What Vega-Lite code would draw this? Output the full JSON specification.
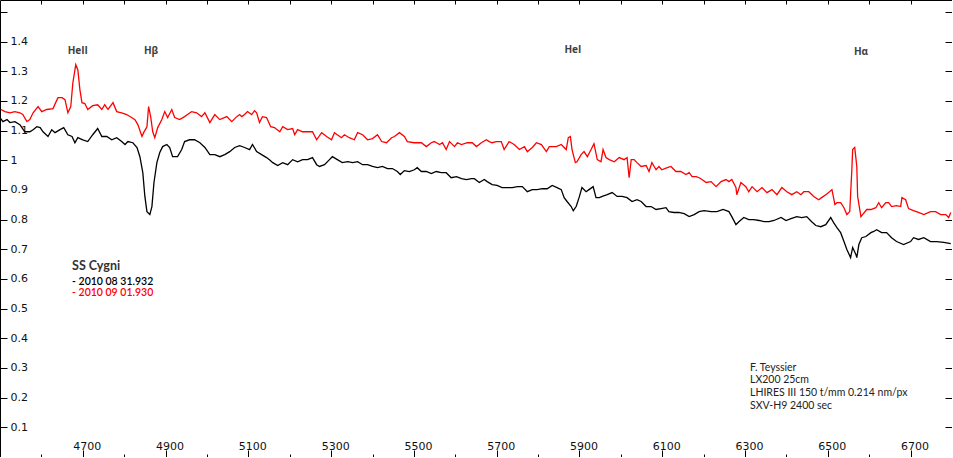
{
"$schema": "https://vega.github.io/schema/vega-lite/v6.json",
"width": 952, "height": 457, "padding": 0, "autosize": {"type": "none"},
"background": "white",
"config": {"view": {"stroke": null}, "axis": {"grid": false, "domainColor": "#000", "tickColor": "#000", "labelFont": "DejaVu Sans", "labelFontSize": 11, "labelColor": "#111", "title": null}},
"datasets": {
"spec": [
{"w":4500,"f":1.144,"s":"k"},{"w":4507,"f":1.130,"s":"k"},{"w":4517,"f":1.137,"s":"k"},{"w":4524,"f":1.127,"s":"k"},{"w":4536,"f":1.130,"s":"k"},{"w":4548,"f":1.120,"s":"k"},{"w":4560,"f":1.096,"s":"k"},{"w":4572,"f":1.096,"s":"k"},{"w":4580,"f":1.103,"s":"k"},{"w":4589,"f":1.113,"s":"k"},{"w":4597,"f":1.110,"s":"k"},{"w":4604,"f":1.096,"s":"k"},{"w":4616,"f":1.080,"s":"k"},{"w":4625,"f":1.103,"s":"k"},{"w":4633,"f":1.093,"s":"k"},{"w":4645,"f":1.103,"s":"k"},{"w":4654,"f":1.110,"s":"k"},{"w":4664,"f":1.086,"s":"k"},{"w":4674,"f":1.080,"s":"k"},{"w":4681,"f":1.059,"s":"k"},{"w":4688,"f":1.076,"s":"k"},{"w":4700,"f":1.069,"s":"k"},{"w":4712,"f":1.063,"s":"k"},{"w":4724,"f":1.086,"s":"k"},{"w":4736,"f":1.107,"s":"k"},{"w":4746,"f":1.080,"s":"k"},{"w":4758,"f":1.080,"s":"k"},{"w":4770,"f":1.069,"s":"k"},{"w":4782,"f":1.076,"s":"k"},{"w":4794,"f":1.063,"s":"k"},{"w":4802,"f":1.053,"s":"k"},{"w":4809,"f":1.063,"s":"k"},{"w":4821,"f":1.059,"s":"k"},{"w":4831,"f":1.043,"s":"k"},{"w":4838,"f":1.012,"s":"k"},{"w":4845,"f":0.958,"s":"k"},{"w":4850,"f":0.878,"s":"k"},{"w":4855,"f":0.827,"s":"k"},{"w":4862,"f":0.817,"s":"k"},{"w":4867,"f":0.844,"s":"k"},{"w":4872,"f":0.925,"s":"k"},{"w":4879,"f":0.992,"s":"k"},{"w":4886,"f":1.026,"s":"k"},{"w":4893,"f":1.046,"s":"k"},{"w":4903,"f":1.053,"s":"k"},{"w":4910,"f":1.043,"s":"k"},{"w":4917,"f":1.012,"s":"k"},{"w":4929,"f":1.012,"s":"k"},{"w":4939,"f":1.036,"s":"k"},{"w":4946,"f":1.063,"s":"k"},{"w":4958,"f":1.069,"s":"k"},{"w":4970,"f":1.069,"s":"k"},{"w":4983,"f":1.059,"s":"k"},{"w":4995,"f":1.043,"s":"k"},{"w":5007,"f":1.019,"s":"k"},{"w":5019,"f":1.019,"s":"k"},{"w":5031,"f":1.012,"s":"k"},{"w":5043,"f":1.019,"s":"k"},{"w":5055,"f":1.029,"s":"k"},{"w":5067,"f":1.043,"s":"k"},{"w":5079,"f":1.049,"s":"k"},{"w":5091,"f":1.043,"s":"k"},{"w":5103,"f":1.036,"s":"k"},{"w":5110,"f":1.053,"s":"k"},{"w":5120,"f":1.029,"s":"k"},{"w":5132,"f":1.019,"s":"k"},{"w":5144,"f":1.009,"s":"k"},{"w":5151,"f":1.002,"s":"k"},{"w":5159,"f":0.992,"s":"k"},{"w":5171,"f":0.982,"s":"k"},{"w":5183,"f":0.992,"s":"k"},{"w":5195,"f":0.985,"s":"k"},{"w":5207,"f":1.002,"s":"k"},{"w":5219,"f":0.995,"s":"k"},{"w":5231,"f":1.002,"s":"k"},{"w":5243,"f":1.002,"s":"k"},{"w":5255,"f":1.009,"s":"k"},{"w":5265,"f":0.985,"s":"k"},{"w":5272,"f":0.979,"s":"k"},{"w":5284,"f":0.985,"s":"k"},{"w":5296,"f":1.002,"s":"k"},{"w":5303,"f":1.012,"s":"k"},{"w":5315,"f":1.002,"s":"k"},{"w":5327,"f":0.992,"s":"k"},{"w":5340,"f":0.995,"s":"k"},{"w":5352,"f":0.992,"s":"k"},{"w":5364,"f":0.995,"s":"k"},{"w":5376,"f":0.985,"s":"k"},{"w":5388,"f":0.985,"s":"k"},{"w":5400,"f":0.979,"s":"k"},{"w":5412,"f":0.975,"s":"k"},{"w":5424,"f":0.979,"s":"k"},{"w":5436,"f":0.972,"s":"k"},{"w":5448,"f":0.972,"s":"k"},{"w":5460,"f":0.962,"s":"k"},{"w":5467,"f":0.952,"s":"k"},{"w":5477,"f":0.965,"s":"k"},{"w":5489,"f":0.962,"s":"k"},{"w":5501,"f":0.968,"s":"k"},{"w":5508,"f":0.975,"s":"k"},{"w":5518,"f":0.962,"s":"k"},{"w":5530,"f":0.962,"s":"k"},{"w":5542,"f":0.955,"s":"k"},{"w":5554,"f":0.962,"s":"k"},{"w":5566,"f":0.958,"s":"k"},{"w":5578,"f":0.958,"s":"k"},{"w":5590,"f":0.941,"s":"k"},{"w":5603,"f":0.945,"s":"k"},{"w":5615,"f":0.938,"s":"k"},{"w":5627,"f":0.935,"s":"k"},{"w":5639,"f":0.938,"s":"k"},{"w":5646,"f":0.938,"s":"k"},{"w":5658,"f":0.925,"s":"k"},{"w":5670,"f":0.935,"s":"k"},{"w":5677,"f":0.928,"s":"k"},{"w":5689,"f":0.918,"s":"k"},{"w":5701,"f":0.915,"s":"k"},{"w":5713,"f":0.908,"s":"k"},{"w":5726,"f":0.908,"s":"k"},{"w":5738,"f":0.908,"s":"k"},{"w":5750,"f":0.911,"s":"k"},{"w":5762,"f":0.911,"s":"k"},{"w":5774,"f":0.894,"s":"k"},{"w":5786,"f":0.901,"s":"k"},{"w":5798,"f":0.901,"s":"k"},{"w":5810,"f":0.904,"s":"k"},{"w":5822,"f":0.904,"s":"k"},{"w":5834,"f":0.915,"s":"k"},{"w":5846,"f":0.908,"s":"k"},{"w":5856,"f":0.901,"s":"k"},{"w":5863,"f":0.874,"s":"k"},{"w":5870,"f":0.861,"s":"k"},{"w":5880,"f":0.844,"s":"k"},{"w":5885,"f":0.830,"s":"k"},{"w":5892,"f":0.844,"s":"k"},{"w":5899,"f":0.874,"s":"k"},{"w":5906,"f":0.908,"s":"k"},{"w":5916,"f":0.894,"s":"k"},{"w":5923,"f":0.901,"s":"k"},{"w":5933,"f":0.911,"s":"k"},{"w":5940,"f":0.874,"s":"k"},{"w":5948,"f":0.874,"s":"k"},{"w":5955,"f":0.878,"s":"k"},{"w":5967,"f":0.884,"s":"k"},{"w":5979,"f":0.891,"s":"k"},{"w":5991,"f":0.878,"s":"k"},{"w":6003,"f":0.878,"s":"k"},{"w":6015,"f":0.874,"s":"k"},{"w":6027,"f":0.861,"s":"k"},{"w":6039,"f":0.867,"s":"k"},{"w":6049,"f":0.861,"s":"k"},{"w":6061,"f":0.844,"s":"k"},{"w":6073,"f":0.844,"s":"k"},{"w":6085,"f":0.834,"s":"k"},{"w":6097,"f":0.837,"s":"k"},{"w":6109,"f":0.840,"s":"k"},{"w":6116,"f":0.827,"s":"k"},{"w":6128,"f":0.824,"s":"k"},{"w":6140,"f":0.824,"s":"k"},{"w":6153,"f":0.820,"s":"k"},{"w":6165,"f":0.810,"s":"k"},{"w":6177,"f":0.817,"s":"k"},{"w":6189,"f":0.827,"s":"k"},{"w":6201,"f":0.830,"s":"k"},{"w":6218,"f":0.827,"s":"k"},{"w":6232,"f":0.827,"s":"k"},{"w":6247,"f":0.834,"s":"k"},{"w":6261,"f":0.827,"s":"k"},{"w":6268,"f":0.810,"s":"k"},{"w":6278,"f":0.783,"s":"k"},{"w":6285,"f":0.793,"s":"k"},{"w":6297,"f":0.807,"s":"k"},{"w":6309,"f":0.800,"s":"k"},{"w":6321,"f":0.800,"s":"k"},{"w":6334,"f":0.797,"s":"k"},{"w":6346,"f":0.793,"s":"k"},{"w":6358,"f":0.793,"s":"k"},{"w":6370,"f":0.797,"s":"k"},{"w":6387,"f":0.807,"s":"k"},{"w":6399,"f":0.797,"s":"k"},{"w":6411,"f":0.803,"s":"k"},{"w":6425,"f":0.810,"s":"k"},{"w":6437,"f":0.807,"s":"k"},{"w":6449,"f":0.810,"s":"k"},{"w":6461,"f":0.793,"s":"k"},{"w":6471,"f":0.780,"s":"k"},{"w":6483,"f":0.776,"s":"k"},{"w":6495,"f":0.783,"s":"k"},{"w":6507,"f":0.807,"s":"k"},{"w":6514,"f":0.790,"s":"k"},{"w":6522,"f":0.773,"s":"k"},{"w":6531,"f":0.756,"s":"k"},{"w":6539,"f":0.726,"s":"k"},{"w":6546,"f":0.699,"s":"k"},{"w":6555,"f":0.672,"s":"k"},{"w":6560,"f":0.706,"s":"k"},{"w":6568,"f":0.682,"s":"k"},{"w":6570,"f":0.672,"s":"k"},{"w":6575,"f":0.716,"s":"k"},{"w":6582,"f":0.739,"s":"k"},{"w":6592,"f":0.743,"s":"k"},{"w":6604,"f":0.756,"s":"k"},{"w":6611,"f":0.760,"s":"k"},{"w":6618,"f":0.766,"s":"k"},{"w":6630,"f":0.756,"s":"k"},{"w":6642,"f":0.756,"s":"k"},{"w":6654,"f":0.739,"s":"k"},{"w":6666,"f":0.726,"s":"k"},{"w":6683,"f":0.716,"s":"k"},{"w":6700,"f":0.726,"s":"k"},{"w":6707,"f":0.739,"s":"k"},{"w":6719,"f":0.733,"s":"k"},{"w":6732,"f":0.739,"s":"k"},{"w":6748,"f":0.726,"s":"k"},{"w":6763,"f":0.726,"s":"k"},{"w":6780,"f":0.723,"s":"k"},{"w":6797,"f":0.719,"s":"k"},
{"w":4502,"f":1.171,"s":"r"},{"w":4512,"f":1.164,"s":"r"},{"w":4524,"f":1.160,"s":"r"},{"w":4536,"f":1.164,"s":"r"},{"w":4548,"f":1.160,"s":"r"},{"w":4555,"f":1.154,"s":"r"},{"w":4565,"f":1.130,"s":"r"},{"w":4572,"f":1.137,"s":"r"},{"w":4580,"f":1.160,"s":"r"},{"w":4592,"f":1.181,"s":"r"},{"w":4601,"f":1.164,"s":"r"},{"w":4613,"f":1.171,"s":"r"},{"w":4628,"f":1.174,"s":"r"},{"w":4640,"f":1.211,"s":"r"},{"w":4650,"f":1.211,"s":"r"},{"w":4657,"f":1.204,"s":"r"},{"w":4664,"f":1.160,"s":"r"},{"w":4671,"f":1.181,"s":"r"},{"w":4676,"f":1.261,"s":"r"},{"w":4683,"f":1.322,"s":"r"},{"w":4688,"f":1.305,"s":"r"},{"w":4693,"f":1.238,"s":"r"},{"w":4698,"f":1.194,"s":"r"},{"w":4705,"f":1.191,"s":"r"},{"w":4712,"f":1.171,"s":"r"},{"w":4724,"f":1.184,"s":"r"},{"w":4736,"f":1.187,"s":"r"},{"w":4746,"f":1.171,"s":"r"},{"w":4753,"f":1.187,"s":"r"},{"w":4761,"f":1.171,"s":"r"},{"w":4773,"f":1.194,"s":"r"},{"w":4782,"f":1.164,"s":"r"},{"w":4794,"f":1.160,"s":"r"},{"w":4806,"f":1.154,"s":"r"},{"w":4818,"f":1.144,"s":"r"},{"w":4826,"f":1.137,"s":"r"},{"w":4833,"f":1.120,"s":"r"},{"w":4843,"f":1.080,"s":"r"},{"w":4847,"f":1.093,"s":"r"},{"w":4855,"f":1.113,"s":"r"},{"w":4859,"f":1.181,"s":"r"},{"w":4864,"f":1.147,"s":"r"},{"w":4869,"f":1.096,"s":"r"},{"w":4874,"f":1.076,"s":"r"},{"w":4881,"f":1.110,"s":"r"},{"w":4891,"f":1.137,"s":"r"},{"w":4898,"f":1.164,"s":"r"},{"w":4905,"f":1.144,"s":"r"},{"w":4915,"f":1.171,"s":"r"},{"w":4922,"f":1.144,"s":"r"},{"w":4934,"f":1.137,"s":"r"},{"w":4946,"f":1.147,"s":"r"},{"w":4963,"f":1.164,"s":"r"},{"w":4975,"f":1.160,"s":"r"},{"w":4987,"f":1.147,"s":"r"},{"w":4995,"f":1.160,"s":"r"},{"w":5007,"f":1.127,"s":"r"},{"w":5019,"f":1.154,"s":"r"},{"w":5031,"f":1.137,"s":"r"},{"w":5048,"f":1.147,"s":"r"},{"w":5060,"f":1.130,"s":"r"},{"w":5072,"f":1.147,"s":"r"},{"w":5079,"f":1.154,"s":"r"},{"w":5084,"f":1.147,"s":"r"},{"w":5091,"f":1.154,"s":"r"},{"w":5098,"f":1.164,"s":"r"},{"w":5108,"f":1.154,"s":"r"},{"w":5115,"f":1.167,"s":"r"},{"w":5120,"f":1.160,"s":"r"},{"w":5127,"f":1.127,"s":"r"},{"w":5134,"f":1.147,"s":"r"},{"w":5144,"f":1.144,"s":"r"},{"w":5154,"f":1.113,"s":"r"},{"w":5163,"f":1.110,"s":"r"},{"w":5176,"f":1.096,"s":"r"},{"w":5183,"f":1.113,"s":"r"},{"w":5195,"f":1.103,"s":"r"},{"w":5207,"f":1.107,"s":"r"},{"w":5212,"f":1.086,"s":"r"},{"w":5219,"f":1.103,"s":"r"},{"w":5231,"f":1.096,"s":"r"},{"w":5243,"f":1.096,"s":"r"},{"w":5255,"f":1.096,"s":"r"},{"w":5265,"f":1.069,"s":"r"},{"w":5277,"f":1.093,"s":"r"},{"w":5289,"f":1.080,"s":"r"},{"w":5301,"f":1.069,"s":"r"},{"w":5308,"f":1.093,"s":"r"},{"w":5325,"f":1.076,"s":"r"},{"w":5332,"f":1.086,"s":"r"},{"w":5344,"f":1.076,"s":"r"},{"w":5356,"f":1.069,"s":"r"},{"w":5364,"f":1.093,"s":"r"},{"w":5376,"f":1.086,"s":"r"},{"w":5388,"f":1.069,"s":"r"},{"w":5400,"f":1.073,"s":"r"},{"w":5412,"f":1.086,"s":"r"},{"w":5422,"f":1.063,"s":"r"},{"w":5434,"f":1.059,"s":"r"},{"w":5446,"f":1.076,"s":"r"},{"w":5453,"f":1.080,"s":"r"},{"w":5465,"f":1.093,"s":"r"},{"w":5477,"f":1.080,"s":"r"},{"w":5484,"f":1.063,"s":"r"},{"w":5501,"f":1.059,"s":"r"},{"w":5518,"f":1.059,"s":"r"},{"w":5530,"f":1.046,"s":"r"},{"w":5542,"f":1.059,"s":"r"},{"w":5549,"f":1.063,"s":"r"},{"w":5562,"f":1.053,"s":"r"},{"w":5569,"f":1.059,"s":"r"},{"w":5578,"f":1.036,"s":"r"},{"w":5586,"f":1.063,"s":"r"},{"w":5598,"f":1.046,"s":"r"},{"w":5605,"f":1.059,"s":"r"},{"w":5615,"f":1.053,"s":"r"},{"w":5629,"f":1.059,"s":"r"},{"w":5641,"f":1.059,"s":"r"},{"w":5651,"f":1.046,"s":"r"},{"w":5663,"f":1.059,"s":"r"},{"w":5675,"f":1.069,"s":"r"},{"w":5682,"f":1.063,"s":"r"},{"w":5689,"f":1.059,"s":"r"},{"w":5699,"f":1.063,"s":"r"},{"w":5711,"f":1.063,"s":"r"},{"w":5718,"f":1.036,"s":"r"},{"w":5730,"f":1.063,"s":"r"},{"w":5742,"f":1.053,"s":"r"},{"w":5755,"f":1.036,"s":"r"},{"w":5767,"f":1.046,"s":"r"},{"w":5774,"f":1.029,"s":"r"},{"w":5786,"f":1.043,"s":"r"},{"w":5796,"f":1.059,"s":"r"},{"w":5808,"f":1.053,"s":"r"},{"w":5820,"f":1.029,"s":"r"},{"w":5827,"f":1.046,"s":"r"},{"w":5844,"f":1.046,"s":"r"},{"w":5856,"f":1.053,"s":"r"},{"w":5868,"f":1.036,"s":"r"},{"w":5873,"f":1.076,"s":"r"},{"w":5878,"f":1.080,"s":"r"},{"w":5882,"f":1.036,"s":"r"},{"w":5890,"f":0.992,"s":"r"},{"w":5894,"f":0.995,"s":"r"},{"w":5904,"f":1.019,"s":"r"},{"w":5911,"f":1.029,"s":"r"},{"w":5919,"f":1.012,"s":"r"},{"w":5928,"f":1.036,"s":"r"},{"w":5935,"f":1.056,"s":"r"},{"w":5943,"f":1.002,"s":"r"},{"w":5952,"f":0.995,"s":"r"},{"w":5957,"f":1.036,"s":"r"},{"w":5964,"f":1.009,"s":"r"},{"w":5972,"f":1.002,"s":"r"},{"w":5984,"f":0.995,"s":"r"},{"w":5996,"f":1.009,"s":"r"},{"w":6008,"f":1.002,"s":"r"},{"w":6015,"f":1.009,"s":"r"},{"w":6020,"f":0.941,"s":"r"},{"w":6025,"f":1.002,"s":"r"},{"w":6032,"f":1.002,"s":"r"},{"w":6039,"f":0.992,"s":"r"},{"w":6049,"f":0.979,"s":"r"},{"w":6061,"f":0.982,"s":"r"},{"w":6068,"f":0.962,"s":"r"},{"w":6075,"f":0.992,"s":"r"},{"w":6085,"f":0.968,"s":"r"},{"w":6092,"f":0.979,"s":"r"},{"w":6099,"f":0.968,"s":"r"},{"w":6112,"f":0.975,"s":"r"},{"w":6121,"f":0.979,"s":"r"},{"w":6133,"f":0.962,"s":"r"},{"w":6145,"f":0.962,"s":"r"},{"w":6157,"f":0.952,"s":"r"},{"w":6165,"f":0.958,"s":"r"},{"w":6172,"f":0.945,"s":"r"},{"w":6182,"f":0.945,"s":"r"},{"w":6189,"f":0.941,"s":"r"},{"w":6196,"f":0.935,"s":"r"},{"w":6206,"f":0.925,"s":"r"},{"w":6218,"f":0.928,"s":"r"},{"w":6230,"f":0.911,"s":"r"},{"w":6242,"f":0.928,"s":"r"},{"w":6254,"f":0.935,"s":"r"},{"w":6261,"f":0.928,"s":"r"},{"w":6268,"f":0.935,"s":"r"},{"w":6278,"f":0.908,"s":"r"},{"w":6280,"f":0.884,"s":"r"},{"w":6290,"f":0.925,"s":"r"},{"w":6302,"f":0.911,"s":"r"},{"w":6309,"f":0.894,"s":"r"},{"w":6317,"f":0.911,"s":"r"},{"w":6329,"f":0.894,"s":"r"},{"w":6341,"f":0.908,"s":"r"},{"w":6353,"f":0.891,"s":"r"},{"w":6365,"f":0.901,"s":"r"},{"w":6377,"f":0.884,"s":"r"},{"w":6389,"f":0.908,"s":"r"},{"w":6401,"f":0.894,"s":"r"},{"w":6413,"f":0.884,"s":"r"},{"w":6425,"f":0.894,"s":"r"},{"w":6435,"f":0.884,"s":"r"},{"w":6442,"f":0.894,"s":"r"},{"w":6454,"f":0.894,"s":"r"},{"w":6466,"f":0.878,"s":"r"},{"w":6478,"f":0.867,"s":"r"},{"w":6485,"f":0.874,"s":"r"},{"w":6495,"f":0.884,"s":"r"},{"w":6502,"f":0.891,"s":"r"},{"w":6510,"f":0.901,"s":"r"},{"w":6517,"f":0.851,"s":"r"},{"w":6522,"f":0.857,"s":"r"},{"w":6531,"f":0.857,"s":"r"},{"w":6539,"f":0.840,"s":"r"},{"w":6546,"f":0.817,"s":"r"},{"w":6553,"f":0.827,"s":"r"},{"w":6558,"f":0.968,"s":"r"},{"w":6560,"f":1.036,"s":"r"},{"w":6565,"f":1.043,"s":"r"},{"w":6570,"f":0.979,"s":"r"},{"w":6572,"f":0.878,"s":"r"},{"w":6580,"f":0.810,"s":"r"},{"w":6584,"f":0.817,"s":"r"},{"w":6594,"f":0.834,"s":"r"},{"w":6604,"f":0.834,"s":"r"},{"w":6616,"f":0.840,"s":"r"},{"w":6623,"f":0.857,"s":"r"},{"w":6630,"f":0.840,"s":"r"},{"w":6640,"f":0.857,"s":"r"},{"w":6647,"f":0.857,"s":"r"},{"w":6654,"f":0.844,"s":"r"},{"w":6666,"f":0.847,"s":"r"},{"w":6676,"f":0.844,"s":"r"},{"w":6679,"f":0.874,"s":"r"},{"w":6688,"f":0.867,"s":"r"},{"w":6695,"f":0.837,"s":"r"},{"w":6707,"f":0.830,"s":"r"},{"w":6719,"f":0.824,"s":"r"},{"w":6732,"f":0.817,"s":"r"},{"w":6748,"f":0.827,"s":"r"},{"w":6760,"f":0.827,"s":"r"},{"w":6773,"f":0.817,"s":"r"},{"w":6785,"f":0.817,"s":"r"},{"w":6792,"f":0.807,"s":"r"},{"w":6797,"f":0.824,"s":"r"}
],
"lab": [{"t":"HeII","w":4688,"f":1.358},{"t":"Hβ","w":4865,"f":1.358},{"t":"HeI","w":5884,"f":1.361},{"t":"Hα","w":6580,"f":1.355}],
"title": [{"t":"SS Cygni","w":4674,"f":0.630}],
"dates": [{"t":"- 2010 08 31.932","s":"k","w":4674,"f":0.580},{"t":"- 2010 09 01.930","s":"r","w":4674,"f":0.541}],
"cred": [{"t":"F. Teyssier","w":6312,"f":0.290},{"t":"LX200 25cm","w":6312,"f":0.248},{"t":"LHIRES III 150 t/mm 0.214 nm/px","w":6312,"f":0.206},{"t":"SXV-H9 2400 sec","w":6312,"f":0.163}]
},
"resolve": {"axis": {"x": "independent", "y": "independent"}},
"layer": [
{"data": {"name": "spec"},
 "mark": {"type": "line", "strokeWidth": 1.3},
 "encoding": {
  "x": {"field": "w", "type": "quantitative", "scale": {"domain": [4500, 6800], "nice": false, "zero": false},
   "axis": {"orient": "bottom", "values": [4600,4700,4800,4900,5000,5100,5200,5300,5400,5500,5600,5700,5800,5900,6000,6100,6200,6300,6400,6500,6600,6700], "format": "d", "labelExpr": "datum.value % 200 === 100 ? datum.label : ''", "tickSize": {"condition": {"test": "datum.value % 200 === 100", "value": -7}, "value": -3}, "labelPadding": -1, "labelBaseline": "alphabetic", "labelOffset": 4, "labelFlush": false, "labelOverlap": false}},
  "y": {"field": "f", "type": "quantitative", "scale": {"domain": [0, 1.54], "nice": false, "zero": false},
   "axis": {"orient": "left", "values": [0.1,0.2,0.3,0.4,0.5,0.6,0.7,0.8,0.9,1,1.1,1.2,1.3,1.4,1.5], "format": "~g", "labelExpr": "datum.value > 1.45 ? '' : datum.label", "tickSize": -7, "labelPadding": -3, "labelAlign": "left", "labelBaseline": "middle", "labelFlush": false, "labelOverlap": false}},
  "color": {"field": "s", "type": "nominal", "scale": {"domain": ["k", "r"], "range": ["#000000", "#ff0000"]}, "legend": null}
 }},
{"data": {"name": "lab"},
 "mark": {"type": "text", "font": "Open Sans", "fontSize": 10, "fontWeight": "bold", "color": "#404040", "align": "center", "baseline": "alphabetic"},
 "encoding": {
  "x": {"field": "w", "type": "quantitative", "scale": {"domain": [4500, 6800], "nice": false, "zero": false},
   "axis": {"orient": "top", "values": [4600,4700,4800,4900,5000,5100,5200,5300,5400,5500,5600,5700,5800,5900,6000,6100,6200,6300,6400,6500,6600,6700], "labels": false, "tickSize": -4}},
  "y": {"field": "f", "type": "quantitative", "scale": {"domain": [0, 1.54], "nice": false, "zero": false},
   "axis": {"orient": "right", "values": [0.1,0.2,0.3,0.4,0.5,0.6,0.7,0.8,0.9,1,1.1,1.2,1.3,1.4,1.5], "labels": false, "tickSize": -7}},
  "text": {"field": "t"}
 }},
{"data": {"name": "title"},
 "mark": {"type": "text", "font": "Lato", "fontSize": 12.5, "fontWeight": "bold", "color": "#333333", "align": "left", "baseline": "alphabetic"},
 "encoding": {
  "x": {"field": "w", "type": "quantitative", "scale": {"domain": [4500, 6800], "nice": false, "zero": false}, "axis": null},
  "y": {"field": "f", "type": "quantitative", "scale": {"domain": [0, 1.54], "nice": false, "zero": false}, "axis": null},
  "text": {"field": "t"}
 }},
{"data": {"name": "dates"},
 "mark": {"type": "text", "font": "Lato", "fontSize": 10.5, "fontWeight": 600, "align": "left", "baseline": "alphabetic"},
 "encoding": {
  "x": {"field": "w", "type": "quantitative", "scale": {"domain": [4500, 6800], "nice": false, "zero": false}, "axis": null},
  "y": {"field": "f", "type": "quantitative", "scale": {"domain": [0, 1.54], "nice": false, "zero": false}, "axis": null},
  "color": {"field": "s", "type": "nominal", "scale": {"domain": ["k", "r"], "range": ["#000000", "#ff0000"]}, "legend": null},
  "text": {"field": "t"}
 }},
{"data": {"name": "cred"},
 "mark": {"type": "text", "font": "Lato", "fontSize": 10.5, "color": "#222222", "align": "left", "baseline": "alphabetic"},
 "encoding": {
  "x": {"field": "w", "type": "quantitative", "scale": {"domain": [4500, 6800], "nice": false, "zero": false}, "axis": null},
  "y": {"field": "f", "type": "quantitative", "scale": {"domain": [0, 1.54], "nice": false, "zero": false}, "axis": null},
  "text": {"field": "t"}
 }}
]
}
